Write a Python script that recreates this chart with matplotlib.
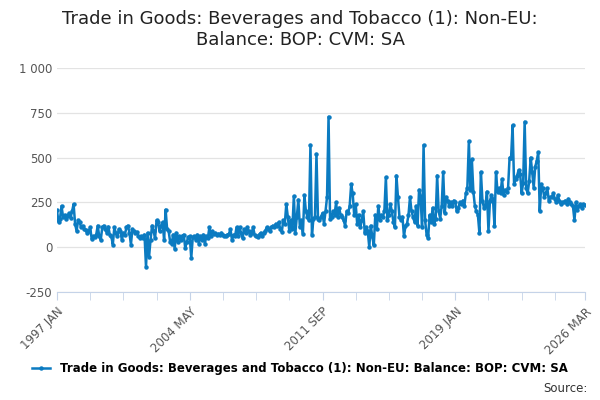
import matplotlib.pyplot as plt
import numpy as np

# monthly values, 1997 JAN .. 2026 MAR (£ million)
y1997 = [205, 140, 160, 230, 170, 180, 160, 175, 190, 165, 200, 240]
y1998 = [130, 90, 150, 140, 110, 120, 100, 95, 80, 90, 110, 45]
y1999 = [60, 55, 70, 120, 60, 40, 110, 120, 100, 80, 115, 70]
y2000 = [60, 15, 110, 80, 60, 100, 90, 40, 80, 70, 110, 120]
y2001 = [80, 15, 100, 90, 80, 85, 60, 50, 60, 50, 70, -110]
y2002 = [80, -55, 40, 120, 90, 50, 150, 140, 90, 120, 140, 40]
y2003 = [210, 100, 90, 30, 20, 70, -10, 80, 30, 60, 40, 60]
y2004 = [70, -5, 30, 55, 60, -60, 55, 60, 40, 70, 20, 60]
y2005 = [40, 70, 20, 60, 50, 110, 60, 90, 75, 80, 70, 75]
y2006 = [70, 80, 70, 60, 65, 70, 75, 100, 40, 70, 60, 110]
y2007 = [60, 110, 80, 50, 100, 80, 110, 90, 70, 80, 110, 70]
y2008 = [60, 55, 70, 80, 60, 80, 90, 110, 100, 90, 110, 120]
y2009 = [110, 130, 120, 140, 100, 85, 150, 130, 240, 170, 90, 150]
y2010 = [100, 285, 80, 170, 265, 110, 150, 75, 290, 200, 170, 150]
y2011 = [570, 70, 160, 170, 520, 160, 150, 170, 190, 130, 200, 280]
y2012 = [728, 160, 170, 200, 180, 250, 170, 220, 180, 170, 150, 120]
y2013 = [200, 190, 230, 350, 300, 180, 240, 130, 180, 110, 150, 200]
y2014 = [80, 110, 90, 0, 120, 60, 10, 180, 100, 230, 150, 180]
y2015 = [170, 200, 390, 150, 180, 240, 200, 140, 110, 400, 280, 170]
y2016 = [150, 170, 60, 120, 130, 180, 280, 200, 170, 140, 230, 120]
y2017 = [320, 280, 110, 570, 150, 70, 50, 180, 140, 220, 130, 160]
y2018 = [400, 200, 160, 230, 420, 190, 280, 260, 230, 250, 230, 260]
y2019 = [250, 200, 220, 250, 240, 260, 230, 300, 330, 590, 320, 490]
y2020 = [310, 230, 200, 180, 80, 420, 260, 220, 230, 310, 90, 260]
y2021 = [290, 270, 120, 420, 310, 330, 300, 380, 290, 320, 310, 330]
y2022 = [500, 500, 680, 350, 380, 400, 430, 410, 300, 360, 700, 330]
y2023 = [300, 370, 500, 420, 330, 450, 480, 530, 200, 350, 330, 280]
y2024 = [300, 330, 260, 280, 280, 300, 270, 250, 290, 260, 240, 250]
y2025 = [250, 260, 240, 270, 250, 240, 230, 150, 250, 210, 230, 240]
y2026 = [220, 240, 235]

values = (y1997 + y1998 + y1999 + y2000 + y2001 + y2002 + y2003 + y2004 + y2005
          + y2006 + y2007 + y2008 + y2009 + y2010 + y2011 + y2012 + y2013 + y2014
          + y2015 + y2016 + y2017 + y2018 + y2019 + y2020 + y2021 + y2022 + y2023
          + y2024 + y2025 + y2026)
label_pos = [0, 88, 176, 264, 350]
label_txt = ['1997 JAN', '2004 MAY', '2011 SEP', '2019 JAN', '2026 MAR']

blue = '#0b7bc1'
fig = plt.figure(figsize=(6, 4), dpi=100)
ax = fig.add_axes([0.095, 0.27, 0.88, 0.56])
x = np.arange(len(values))
ax.plot(x, values, color=blue, lw=1.8, marker='o', ms=2.2)

ax.set_xlim(0, 350)
ax.set_ylim(-250, 1000)
ax.set_yticks([-250, 0, 250, 500, 750, 1000])
ax.set_yticklabels(['-250', '0', '250', '500', '750', '1 000'], color='#555555', fontsize=8.5)
ax.grid(axis='y', color='#e3e3e3', lw=0.9)
ax.set_xticks(np.arange(0, 351, 22), minor=True)
ax.set_xticks(label_pos)
ax.set_xticklabels(label_txt, rotation=45, ha='right', rotation_mode='anchor',
                   color='#555555', fontsize=8.5)
ax.tick_params(axis='x', which='both', color='#c5d3e8', length=6)
ax.tick_params(axis='y', length=0)
for s in ['top', 'right', 'left']:
    ax.spines[s].set_visible(False)
ax.spines['bottom'].set_color('#c5d3e8')

fig.suptitle('Trade in Goods: Beverages and Tobacco (1): Non-EU:\nBalance: BOP: CVM: SA',
             fontsize=13, y=0.975, color='#222222')
fig.legend(['Trade in Goods: Beverages and Tobacco (1): Non-EU: Balance: BOP: CVM: SA'],
           loc='lower center', bbox_to_anchor=(0.5, 0.035), frameon=False,
           prop={'weight': 'bold', 'size': 8.5}, handlelength=1.5)
fig.text(0.98, 0.02, 'Source:', ha='right', fontsize=8.5, color='#333333')
fig.savefig('out.png')
